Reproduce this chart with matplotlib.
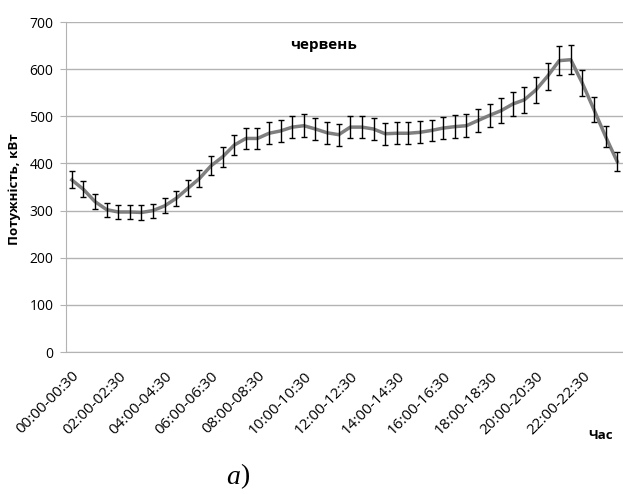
import numpy as np
import matplotlib
matplotlib.use("Agg")
import matplotlib.pyplot as plt

# half-hour intervals, June load profile
intervals = ["%02d:%02d-%02d:%02d" % (i // 2, 30 * (i % 2), (i + 1) // 2, 30 * ((i + 1) % 2))
             for i in range(48)]
power = [365, 345, 319, 302, 297, 297, 296, 300, 310, 326, 347, 368,
         395, 414, 439, 453, 453, 464, 469, 477, 480, 473, 465, 461,
         477, 477, 473, 463, 464, 464, 466, 470, 475, 478, 480, 491,
         502, 512, 526, 535, 556, 585, 618, 620, 570, 514, 457, 404]
err = [18, 17, 16, 15, 15, 15, 15, 15, 16, 16, 17, 18,
       20, 21, 22, 23, 23, 23, 23, 24, 24, 24, 23, 23,
       24, 24, 24, 23, 23, 23, 23, 23, 24, 24, 24, 25,
       25, 26, 26, 27, 28, 29, 31, 31, 28, 26, 23, 20]

plt.rcParams['font.family'] = ['Open Sans', 'DejaVu Sans']

fig = plt.figure(figsize=(6.23, 4.94), dpi=100)
ax = fig.add_axes([66 / 623, 142 / 494, 557 / 623, 330 / 494])

x = np.arange(len(power))
ax.plot(x, power, color='#7f7f7f', lw=2.5, solid_joinstyle='round', zorder=3)
ax.errorbar(x, power, yerr=err, fmt='none', ecolor='black', elinewidth=1,
            capsize=2.5, capthick=1, zorder=4)

ax.set_xlim(-0.5, 47.5)
ax.set_ylim(0, 700)
ax.set_yticks(range(0, 701, 100))
ax.yaxis.grid(True, color='#b3b3b3', lw=1)
ax.set_axisbelow(True)
ax.set_xticks(x[::4])
ax.set_xticklabels(intervals[::4], rotation=45, ha='right', rotation_mode='anchor',
                   fontsize=11)
ax.tick_params(axis='x', length=0, pad=12)
ax.tick_params(axis='y', length=4, color='#b3b3b3', labelsize=10, pad=5)
for s in ['top', 'right']:
    ax.spines[s].set_visible(False)
ax.spines['left'].set_color('#b3b3b3')
ax.spines['bottom'].set_color('#b3b3b3')

ax.text(0.463, 0.93, 'червень', transform=ax.transAxes, ha='center', va='center',
        fontsize=11, fontweight='bold')
fig.text(15 / 623, 1 - 189 / 494, 'Потужність, кВт', rotation=90, ha='center',
         va='center', fontsize=9.5, fontweight='bold')
fig.text(601 / 623, 1 - 435 / 494, 'Час', ha='center', va='center',
         fontsize=9.5, fontweight='bold')
fig.text(240 / 623, 1 - 477 / 494, 'а', ha='right', va='center', fontsize=20,
         family='Liberation Serif', style='italic')
fig.text(240 / 623, 1 - 477 / 494, ')', ha='left', va='center', fontsize=20,
         family='Liberation Serif')

fig.savefig('out.png', dpi=100)
